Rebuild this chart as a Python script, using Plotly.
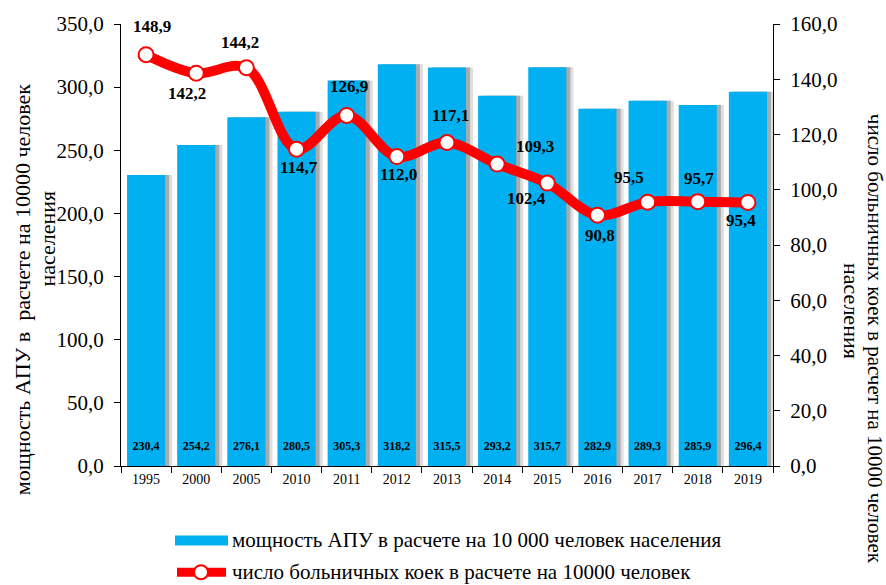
import plotly.graph_objects as go

# ---- data ----
years = ["1995", "2000", "2005", "2010", "2011", "2012", "2013",
         "2014", "2015", "2016", "2017", "2018", "2019"]
apu_capacity = [230.4, 254.2, 276.1, 280.5, 305.3, 318.2, 315.5,
                293.2, 315.7, 282.9, 289.3, 285.9, 296.4]
hospital_beds = [148.9, 142.2, 144.2, 114.7, 126.9, 112.0, 117.1,
                 109.3, 102.4, 90.8, 95.5, 95.7, 95.4]
left_ticks = [0, 50, 100, 150, 200, 250, 300, 350]
right_ticks = [0, 20, 40, 60, 80, 100, 120, 140, 160]

name_bar = "мощность АПУ в расчете на 10 000 человек населения"
name_line = "число больничных коек в расчете на 10000 человек"
left_title_1 = "мощность АПУ в  расчете на 10000 человек"
left_title_2 = "населения"
right_title_1 = "число больничных коек в расчет на 10000 человек"
right_title_2 = "населения"

# ---- style ----
W, H = 886, 585
PL, PR, PT, PB = 121, 773, 21, 466
FONT = "Liberation Serif, Times New Roman, serif"
BLUE = "#00B0F0"
RED = "#FF0000"
# label offsets in pixels (dx, dy upward) for the line labels
label_shift = [(6, 28), (-9, -20), (-6, 25), (2, -18), (2, 29), (2, -18), (3, 27),
               (38, 18), (-21, -15), (3, -20), (-19, 25), (1, 23), (-7, -18)]


def fmt(v):
    return f"{v:.1f}".replace(".", ",")


def px_x(p):
    return (p - PL) / (PR - PL)


def px_y(p):
    return (PB - p) / (PB - PT)


fig = go.Figure()

BW = 0.76
# shadows
fig.add_trace(go.Bar(x=years, y=apu_capacity, width=BW, offset=-BW / 2 + 0.14,
                     marker=dict(color="#DEDEDE", line=dict(width=0)),
                     showlegend=False, hoverinfo="skip"))
fig.add_trace(go.Bar(x=years, y=apu_capacity, width=BW, offset=-BW / 2 + 0.08,
                     marker=dict(color="#ABABAB", line=dict(width=0)),
                     showlegend=False, hoverinfo="skip"))
# main bars
fig.add_trace(go.Bar(x=years, y=apu_capacity, width=BW, offset=-BW / 2,
                     marker=dict(color=BLUE, line=dict(width=0)),
                     name=name_bar, showlegend=False))
# bar labels near the base
fig.add_trace(go.Scatter(x=years, y=[15] * len(years), mode="text",
                         text=[fmt(v) for v in apu_capacity],
                         textfont=dict(family=FONT, size=12, color="black", weight="bold"),
                         showlegend=False, hoverinfo="skip", cliponaxis=False))
# line
fig.add_trace(go.Scatter(x=years, y=hospital_beds, yaxis="y2", mode="lines+markers",
                         line=dict(color=RED, width=10, shape="spline", smoothing=1.0),
                         marker=dict(symbol="circle", size=15, color="white",
                                     line=dict(color=RED, width=2)),
                         name=name_line, showlegend=False, cliponaxis=False))

annotations = []
for i, (v, (dx, dy)) in enumerate(zip(hospital_beds, label_shift)):
    annotations.append(dict(x=i, y=v, xref="x", yref="y2", text=fmt(v), showarrow=False,
                            xshift=dx, yshift=dy,
                            font=dict(family=FONT, size=17, color="black", weight="bold")))

# axis titles
annotations += [
    dict(x=px_x(22), y=px_y(288), xref="paper", yref="paper", text=left_title_1,
         textangle=-90, showarrow=False, xanchor="center", yanchor="middle",
         font=dict(family=FONT, size=22, color="black")),
    dict(x=px_x(48), y=px_y(237), xref="paper", yref="paper", text=left_title_2,
         textangle=-90, showarrow=False, xanchor="center", yanchor="middle",
         font=dict(family=FONT, size=22, color="black")),
    dict(x=px_x(875), y=px_y(338), xref="paper", yref="paper", text=right_title_1,
         textangle=90, showarrow=False, xanchor="center", yanchor="middle",
         font=dict(family=FONT, size=21, color="black")),
    dict(x=px_x(852), y=px_y(310), xref="paper", yref="paper", text=right_title_2,
         textangle=90, showarrow=False, xanchor="center", yanchor="middle",
         font=dict(family=FONT, size=22, color="black")),
]

# custom legend
shapes = [
    dict(type="rect", xref="paper", yref="paper",
         x0=px_x(175), x1=px_x(228), y0=px_y(546), y1=px_y(536),
         fillcolor=BLUE, line=dict(width=0)),
    dict(type="line", xref="paper", yref="paper",
         x0=px_x(177), x1=px_x(226), y0=px_y(573), y1=px_y(573),
         line=dict(color=RED, width=9)),
    dict(type="circle", xref="paper", yref="paper", xsizemode="pixel", ysizemode="pixel",
         xanchor=px_x(201), yanchor=px_y(573), x0=-7, x1=7, y0=-7, y1=7,
         fillcolor="white", line=dict(color=RED, width=2)),
]
annotations += [
    dict(x=px_x(230), y=px_y(541), xref="paper", yref="paper", text=name_bar,
         showarrow=False, xanchor="left", yanchor="middle",
         font=dict(family=FONT, size=21, color="black")),
    dict(x=px_x(230), y=px_y(573), xref="paper", yref="paper", text=name_line,
         showarrow=False, xanchor="left", yanchor="middle",
         font=dict(family=FONT, size=21, color="black")),
]

fig.update_layout(
    width=W, height=H,
    margin=dict(l=PL, r=W - PR, t=PT, b=H - PB, pad=0),
    paper_bgcolor="white", plot_bgcolor="white",
    barmode="overlay",
    separators=", ",
    showlegend=False,
    font=dict(family=FONT, color="black"),
    xaxis=dict(type="category", range=[-0.5, len(years) - 0.5],
               showline=True, linecolor="black", linewidth=1,
               ticks="outside", ticklen=6, tickcolor="black", tickson="boundaries",
               tickfont=dict(family=FONT, size=14, color="black"),
               showgrid=False, zeroline=False),
    yaxis=dict(range=[0, 350], tickvals=left_ticks, tickformat=".1f",
               showline=True, linecolor="black", linewidth=1,
               ticks="outside", ticklen=6, tickcolor="black",
               tickfont=dict(family=FONT, size=21, color="black"),
               showgrid=False, zeroline=False, ticklabelstandoff=6),
    yaxis2=dict(range=[0, 160], tickvals=right_ticks, tickformat=".1f",
                overlaying="y", side="right",
                showline=True, linecolor="black", linewidth=1,
                ticks="outside", ticklen=6, tickcolor="black",
                tickfont=dict(family=FONT, size=21, color="black"),
                showgrid=False, zeroline=False, ticklabelstandoff=6),
    shapes=shapes,
    annotations=annotations,
)

fig.write_html("out.html", config={"displayModeBar": False},
               post_script="document.body.style.margin='0';document.body.style.overflow='hidden';")
